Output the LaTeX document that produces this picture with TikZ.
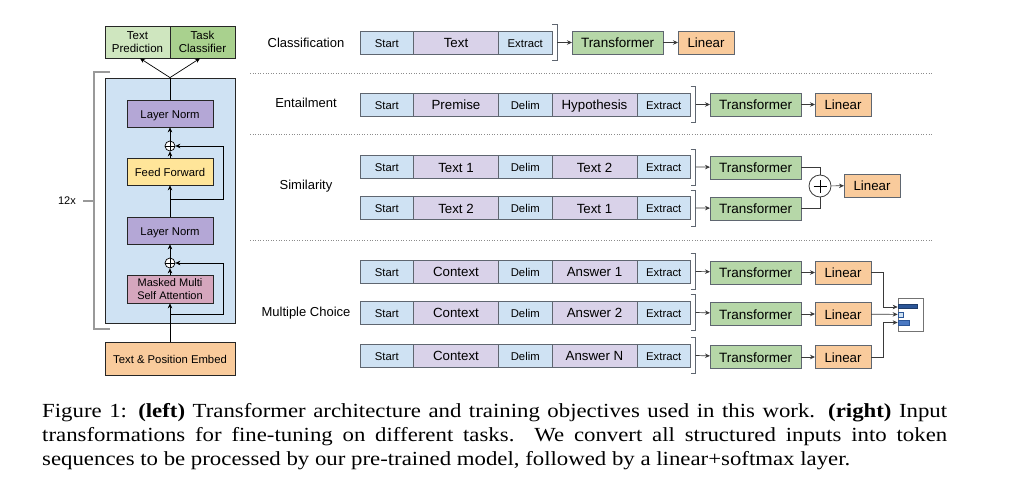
\documentclass[tikz,border=0pt]{standalone}
\usepackage{fontspec}
\setmainfont{Liberation Sans}
\newfontfamily\capfont[FakeStretch=1.14]{Liberation Serif}
\usepackage{tikz}
\usetikzlibrary{arrows.meta}
\usetikzlibrary{positioning}

\definecolor{tokblue}{HTML}{CFE2F3}
\definecolor{txtpurple}{HTML}{D9D2E9}
\definecolor{trgreen}{HTML}{B6D7A8}
\definecolor{linorange}{HTML}{F9CB9C}
\definecolor{normpurple}{HTML}{B4A7D6}
\definecolor{ffyellow}{HTML}{FFE599}
\definecolor{attpink}{HTML}{D5A6BD}
\definecolor{predgreen}{HTML}{CFE6BF}
\definecolor{clsgreen}{HTML}{A9D18E}
\definecolor{segline}{HTML}{5F6670}
\definecolor{wire}{HTML}{3A3A3A}
\definecolor{bardark}{HTML}{2B5597}
\definecolor{barmid}{HTML}{4A78C2}

\begin{document}
\begin{tikzpicture}[x=1pt,y=-1pt,
  seg/.style={draw=segline, line width=0.6pt, minimum height=23pt, inner sep=0pt, outer sep=0pt, text depth=0pt},
  tok/.style={seg, fill=tokblue, minimum width=53.5pt, text height=9.2pt, font=\fontsize{11.3}{13}\selectfont},
  txt/.style={seg, fill=txtpurple, minimum width=85pt, text height=10.6pt, font=\fontsize{13.3}{15}\selectfont},
  trf/.style={seg, fill=trgreen, minimum width=91pt, text height=10.6pt, font=\fontsize{13.5}{15}\selectfont},
  lin/.style={seg, fill=linorange, minimum width=56pt, text height=10.6pt, font=\fontsize{13.3}{15}\selectfont},
  task/.style={font=\fontsize{13}{15}\selectfont},
  layer/.style={draw=black!85, line width=0.7pt, inner sep=0pt, minimum width=86pt, minimum height=27pt, align=center, font=\fontsize{11.3}{13}\selectfont},
  oneline/.style={text height=9pt, text depth=0pt},
  oplus/.style={circle, draw=black, line width=0.7pt, fill=white, minimum size=10pt, inner sep=0pt},
  arr/.style={-{Stealth[length=5pt,width=4.5pt]}, line width=0.7pt},
  brk/.style={draw=segline, line width=0.8pt},
  sep/.style={draw=black!45, line width=0.6pt, dash pattern=on 0.8pt off 1.8pt}]
\useasboundingbox (0,0) rectangle (1024,487);

% draws the decoder block
\node[draw=black!85, line width=0.8pt, fill=tokblue, minimum width=130pt, minimum height=245pt] (blk) at (170,200.5) {};
\node[layer, oneline, fill=normpurple] (ln2) at (170,113.5) {Layer Norm};
\node[oplus] (p2) at (170,146) {};
\node[layer, oneline, fill=ffyellow] (ff) at (170,171.5) {Feed Forward};
\node[layer, oneline, fill=normpurple] (ln1) at (170,230.5) {Layer Norm};
\node[oplus] (p1) at (170,263) {};
\node[layer, fill=attpink, minimum height=28pt, font=\fontsize{11}{12.5}\selectfont] (att) at (170,289) {Masked Multi\\Self Attention};
\node[layer, oneline, fill=linorange, minimum width=130pt, minimum height=33pt] (emb) at (170,358.5) {Text \& Position Embed};
\node[layer, fill=predgreen, minimum width=65pt, minimum height=32pt, font=\fontsize{11.5}{13}\selectfont] (tp) at (137.5,42) {Text\\Prediction};
\node[layer, fill=clsgreen, minimum width=65pt, minimum height=32pt, font=\fontsize{11.5}{13}\selectfont] (tc) at (202.5,42) {Task\\Classifier};
\draw (p1.north) -- (p1.south) (p1.west) -- (p1.east);
\draw (p2.north) -- (p2.south) (p2.west) -- (p2.east);
% draws the block wiring
\coordinate (r1) at (170,314);
\coordinate (r2) at (170,199);
\draw[arr] (emb) -- (att);
\draw[arr] (att) -- (p1);
\draw[arr] (r1) -- ++(53pt,0) |- (p1);
\draw[arr] (p1) -- (ln1);
\draw[arr] (ln1) -- (ff);
\draw[arr] (ff) -- (p2);
\draw[arr] (r2) -- ++(53pt,0) |- (p2);
\draw[arr] (p2) -- (ln2);
\draw[line width=0.7pt] (ln2) -- (blk.north);
\draw[arr] (blk.north) -- ([xshift=2.5pt]tp.south);
\draw[arr] (blk.north) -- ([xshift=-2.5pt]tc.south);
% draws the 12x bracket
\node[inner sep=0pt, font=\fontsize{11}{13}\selectfont] (rep) at (67,201) {12x};
\draw[black!40, line width=1.2pt] (110,72) -- (94,72) -- (94,329) -- (110,329);
\draw[black!40, line width=1.2pt] ([xshift=7pt]rep.east) -- (94,201);

% draws the separators
\draw[sep] (250,73) -- (932,73);
\draw[sep] (250,134) -- (932,134);
\draw[sep] (250,240) -- (932,240);

% classification
\node[task] (lcls) at (306,43) {Classification};
\node[tok, anchor=west] (cs) at (360,42.5) {Start};
\node[txt, right=0pt of cs] (ct) {Text};
\node[tok, right=0pt of ct] (ce) {Extract};
\draw[brk] ([yshift=6.5pt]ce.north east) -- ++(5pt,0) -- ([xshift=5pt,yshift=-6.5pt]ce.south east) -- ([yshift=-6.5pt]ce.south east);
\coordinate (cb) at ([xshift=5pt]ce.east);
\node[trf, anchor=west] (ctr) at (572,42.5) {Transformer};
\node[lin, right=15pt of ctr] (clin) {Linear};
\draw[arr, wire] (cb) -- (ctr);
\draw[arr, wire] (ctr) -- (clin);

% entailment
\node[task] (lent) at (306,103) {Entailment};
\node[tok, anchor=west] (es) at (360,104.5) {Start};
\node[txt, right=0pt of es] (ep) {Premise};
\node[tok, right=0pt of ep] (ed) {Delim};
\node[txt, right=0pt of ed] (eh) {Hypothesis};
\node[tok, right=0pt of eh] (ee) {Extract};
\draw[brk] ([yshift=6.5pt]ee.north east) -- ++(5pt,0) -- ([xshift=5pt,yshift=-6.5pt]ee.south east) -- ([yshift=-6.5pt]ee.south east);
\coordinate (eb) at ([xshift=5pt]ee.east);
\node[trf, anchor=west] (etr) at (710,104.5) {Transformer};
\node[lin, right=14pt of etr] (elin) {Linear};
\draw[arr, wire] (eb) -- (etr);
\draw[arr, wire] (etr) -- (elin);

% similarity
\node[task] (lsim) at (306,186) {Similarity};
\node[tok, anchor=west] (s1a) at (360,167) {Start};
\node[txt, right=0pt of s1a] (s1b) {Text 1};
\node[tok, right=0pt of s1b] (s1c) {Delim};
\node[txt, right=0pt of s1c] (s1d) {Text 2};
\node[tok, right=0pt of s1d] (s1e) {Extract};
\node[tok, anchor=west] (s2a) at (360,208) {Start};
\node[txt, right=0pt of s2a] (s2b) {Text 2};
\node[tok, right=0pt of s2b] (s2c) {Delim};
\node[txt, right=0pt of s2c] (s2d) {Text 1};
\node[tok, right=0pt of s2d] (s2e) {Extract};
\draw[brk] ([yshift=6.5pt]s1e.north east) -- ++(5pt,0) -- ([xshift=5pt,yshift=-6.5pt]s1e.south east) -- ([yshift=-6.5pt]s1e.south east);
\draw[brk] ([yshift=6.5pt]s2e.north east) -- ++(5pt,0) -- ([xshift=5pt,yshift=-6.5pt]s2e.south east) -- ([yshift=-6.5pt]s2e.south east);
\coordinate (s1x) at ([xshift=5pt]s1e.east);
\coordinate (s2x) at ([xshift=5pt]s2e.east);
\node[trf, anchor=west] (str1) at (710,167.5) {Transformer};
\node[trf, anchor=west] (str2) at (710,208.5) {Transformer};
\node[circle, draw=wire, line width=0.8pt, fill=white, minimum size=22pt, inner sep=0pt] (ssum) at (820,186) {};
\draw[line width=0.9pt] (ssum.center) +(-6.5pt,0) -- +(6.5pt,0) +(0,-6.5pt) -- +(0,6.5pt);
\node[lin, anchor=west] (slin) at (844,185.5) {Linear};
\draw[arr, wire] (s1x) -- (str1);
\draw[arr, wire] (s2x) -- (str2);
\draw[wire, line width=0.7pt] (str1) -| (ssum);
\draw[wire, line width=0.7pt] (str2) -| (ssum);
\draw[arr, wire] (ssum) -- (slin);

% multiple choice
\node[task] (lmc) at (306,313) {Multiple Choice};
\node[tok, anchor=west] (m1a) at (360,271.5) {Start};
\node[txt, right=0pt of m1a] (m1b) {Context};
\node[tok, right=0pt of m1b] (m1c) {Delim};
\node[txt, right=0pt of m1c] (m1d) {Answer 1};
\node[tok, right=0pt of m1d] (m1e) {Extract};
\node[tok, anchor=west] (m2a) at (360,312.5) {Start};
\node[txt, right=0pt of m2a] (m2b) {Context};
\node[tok, right=0pt of m2b] (m2c) {Delim};
\node[txt, right=0pt of m2c] (m2d) {Answer 2};
\node[tok, right=0pt of m2d] (m2e) {Extract};
\node[tok, anchor=west] (m3a) at (360,355.5) {Start};
\node[txt, right=0pt of m3a] (m3b) {Context};
\node[tok, right=0pt of m3b] (m3c) {Delim};
\node[txt, right=0pt of m3c] (m3d) {Answer N};
\node[tok, right=0pt of m3d] (m3e) {Extract};
\draw[brk] ([yshift=6.5pt]m1e.north east) -- ++(5pt,0) -- ([xshift=5pt,yshift=-6.5pt]m1e.south east) -- ([yshift=-6.5pt]m1e.south east);
\draw[brk] ([yshift=6.5pt]m2e.north east) -- ++(5pt,0) -- ([xshift=5pt,yshift=-6.5pt]m2e.south east) -- ([yshift=-6.5pt]m2e.south east);
\draw[brk] ([yshift=6.5pt]m3e.north east) -- ++(5pt,0) -- ([xshift=5pt,yshift=-6.5pt]m3e.south east) -- ([yshift=-6.5pt]m3e.south east);
\coordinate (m1x) at ([xshift=5pt]m1e.east);
\coordinate (m2x) at ([xshift=5pt]m2e.east);
\coordinate (m3x) at ([xshift=5pt]m3e.east);
\node[trf, anchor=west] (mtr1) at (710,272.5) {Transformer};
\node[trf, anchor=west] (mtr2) at (710,314) {Transformer};
\node[trf, anchor=west] (mtr3) at (710,357) {Transformer};
\node[lin, right=14pt of mtr1] (mlin1) {Linear};
\node[lin, right=14pt of mtr2] (mlin2) {Linear};
\node[lin, right=14pt of mtr3] (mlin3) {Linear};
\draw[arr, wire] (m1x) -- (mtr1);
\draw[arr, wire] (m2x) -- (mtr2);
\draw[arr, wire] (m3x) -- (mtr3);
\draw[arr, wire] (mtr1) -- (mlin1);
\draw[arr, wire] (mtr2) -- (mlin2);
\draw[arr, wire] (mtr3) -- (mlin3);
% draws the softmax box
\node[draw=black!55, line width=0.7pt, fill=white, minimum width=25pt, minimum height=33pt, inner sep=0pt] (msm) at (910.5,314.5) {};
\filldraw[fill=bardark, draw=bardark!70!black, line width=0.4pt] (898,304) rectangle (917,308.5);
\filldraw[fill=tokblue, draw=bardark, line width=0.5pt] (898,312) rectangle (903,317);
\filldraw[fill=barmid, draw=bardark, line width=0.4pt] (898,320) rectangle (909,325);
\draw[arr, wire] (mlin1.east) -- ++(12pt,0) |- ([yshift=7.5pt]msm.west);
\draw[arr, wire] (mlin2) -- (msm);
\draw[arr, wire] (mlin3.east) -- ++(12pt,0) |- ([yshift=-8pt]msm.west);

% draws the caption
\node[anchor=north west, inner sep=0pt, text width=905pt, align=justify, font=\capfont\fontsize{20}{24}\selectfont] (cap) at (42,403.5) {Figure 1: \textbf{(left)} Transformer architecture and training objectives used in this work. \textbf{(right)} Input\linebreak transformations for fine-tuning on different tasks. We convert all structured inputs into token\linebreak sequences to be processed by our pre-trained model, followed by a linear+softmax layer.};
\end{tikzpicture}
\end{document}
